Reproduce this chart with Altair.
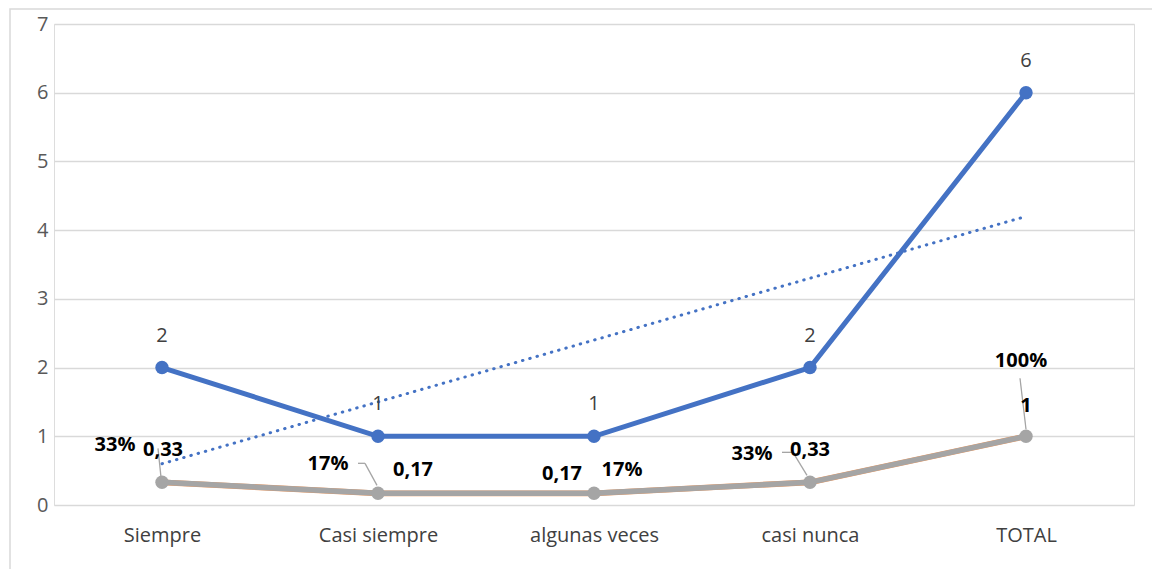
import altair as alt
import pandas as pd

categories = ["Siempre", "Casi siempre", "algunas veces", "casi nunca", "TOTAL"]
counts = [2, 1, 1, 2, 6]
proportions = [0.33, 0.17, 0.17, 0.33, 1.0]
percents = [0.33, 0.17, 0.17, 0.33, 1.0]
y_ticks = [0, 1, 2, 3, 4, 5, 6, 7]

df = pd.DataFrame({
    "idx": list(range(len(categories))),
    "cat": categories,
    "n": counts,
    "prop": proportions,
    "pct": percents,
})

FONT = "Open Sans"
FS = 20
BLUE = "#4472C4"
GRAY = "#A5A5A5"
ORANGE = "#ED7D31"

label_expr = "[" + ",".join("'" + c + "'" for c in categories) + "][datum.value]"

x = alt.X("idx:Q", scale=alt.Scale(domain=[-0.5, len(categories) - 0.5], nice=False, zero=False),
          axis=alt.Axis(values=list(range(len(categories))), labelExpr=label_expr, title=None,
                        grid=False, domain=False, ticks=False, labelFontSize=FS, labelFont=FONT,
                        labelColor="#404040", labelPadding=20))
y_axis = alt.Axis(values=y_ticks, format="d", title=None, domain=False, ticks=False, labelFontSize=FS,
                  labelFont=FONT, labelColor="#595959", labelPadding=6, gridColor="#D9D9D9",
                  gridWidth=1.5)

base = alt.Chart(df)

frame = alt.Chart(pd.DataFrame({"a": [0]})).mark_rect(fill=None, stroke="#D9D9D9", strokeWidth=1.5).encode(
    x=alt.value(-44), x2=alt.value(1200), y=alt.value(-15), y2=alt.value(700))

grid = base.mark_point(opacity=0).encode(
    x=x, y=alt.Y("n:Q", scale=alt.Scale(domain=[0, 7], nice=False), axis=y_axis))

orange_line = base.mark_line(color=ORANGE, strokeWidth=5.8, opacity=0.8).encode(x=x, y=alt.Y("pct:Q"))
gray_line = base.mark_line(color=GRAY, strokeWidth=5.5, point=alt.OverlayMarkDef(color=GRAY, size=180, opacity=1)).encode(
    x=x, y=alt.Y("prop:Q"))
blue_line = base.mark_line(color=BLUE, strokeWidth=5, point=alt.OverlayMarkDef(color=BLUE, size=180, opacity=1)).encode(
    x=x, y=alt.Y("n:Q"))

trend = base.transform_regression("idx", "n", method="linear", extent=[0, len(categories) - 1]).mark_line(
    color=BLUE, strokeWidth=3, strokeDash=[0.5, 7], strokeCap="round").encode(x=x, y="n:Q")

blue_labels = base.mark_text(dy=-32, fontSize=FS, font=FONT, color="#404040").encode(
    x=x, y="n:Q", text=alt.Text("n:Q", format="d"))

val_offsets = [(1, -32), (35, -23), (-32, -19), (0, -32), (0, -30)]
pct_offsets = [(-47, -37), (-50, -29), (28, -23), (-58, -28), (-5, -75)]
# leader line segments per point: list of ((x1,y1),(x2,y2)) pixel offsets from the point
leaders = {
    0: [((-4, -34), (-1, -5))],
    1: [((-20, -30), (-13, -30)), ((-13, -30), (-1, -8))],
    3: [((-28, -30), (-17, -30)), ((-17, -30), (-3, -7))],
    4: [((-6, -58), (0, -7))],
}

layers = [frame, grid, trend, orange_line, gray_line, blue_line, blue_labels]
lbl = base.transform_calculate(
    vlab="replace(format(datum.prop, '.2~f'), '.', ',')",
    plab="format(datum.pct, '.0%')",
)
for i, segs in leaders.items():
    sub = base.transform_filter(alt.datum.idx == i)
    for (a, b) in segs:
        layers.append(sub.mark_rule(color="#A5A5A5", strokeWidth=1.3,
                                    xOffset=a[0], yOffset=a[1], x2Offset=b[0], y2Offset=b[1]).encode(
            x=x, y="prop:Q", x2="idx:Q", y2="prop:Q"))
for i in range(len(categories)):
    dxv, dyv = val_offsets[i]
    dxp, dyp = pct_offsets[i]
    sub = lbl.transform_filter(alt.datum.idx == i)
    layers.append(sub.mark_text(dx=dxv, dy=dyv, fontSize=FS, fontWeight="bold", font=FONT, color="#000000").encode(
        x=x, y="prop:Q", text="vlab:N"))
    layers.append(sub.mark_text(dx=dxp, dy=dyp, fontSize=FS, fontWeight="bold", font=FONT, color="#000000").encode(
        x=x, y="pct:Q", text="plab:N"))

chart = alt.layer(*layers).properties(
    width=1080, height=481,
    autosize=alt.AutoSizeParams(type="none"),
    padding={"left": 46, "top": 16, "right": 18, "bottom": 64},
).configure_view(stroke=None).configure(background="white")

chart.save("out.html", embed_options={"renderer": "svg", "actions": False})
